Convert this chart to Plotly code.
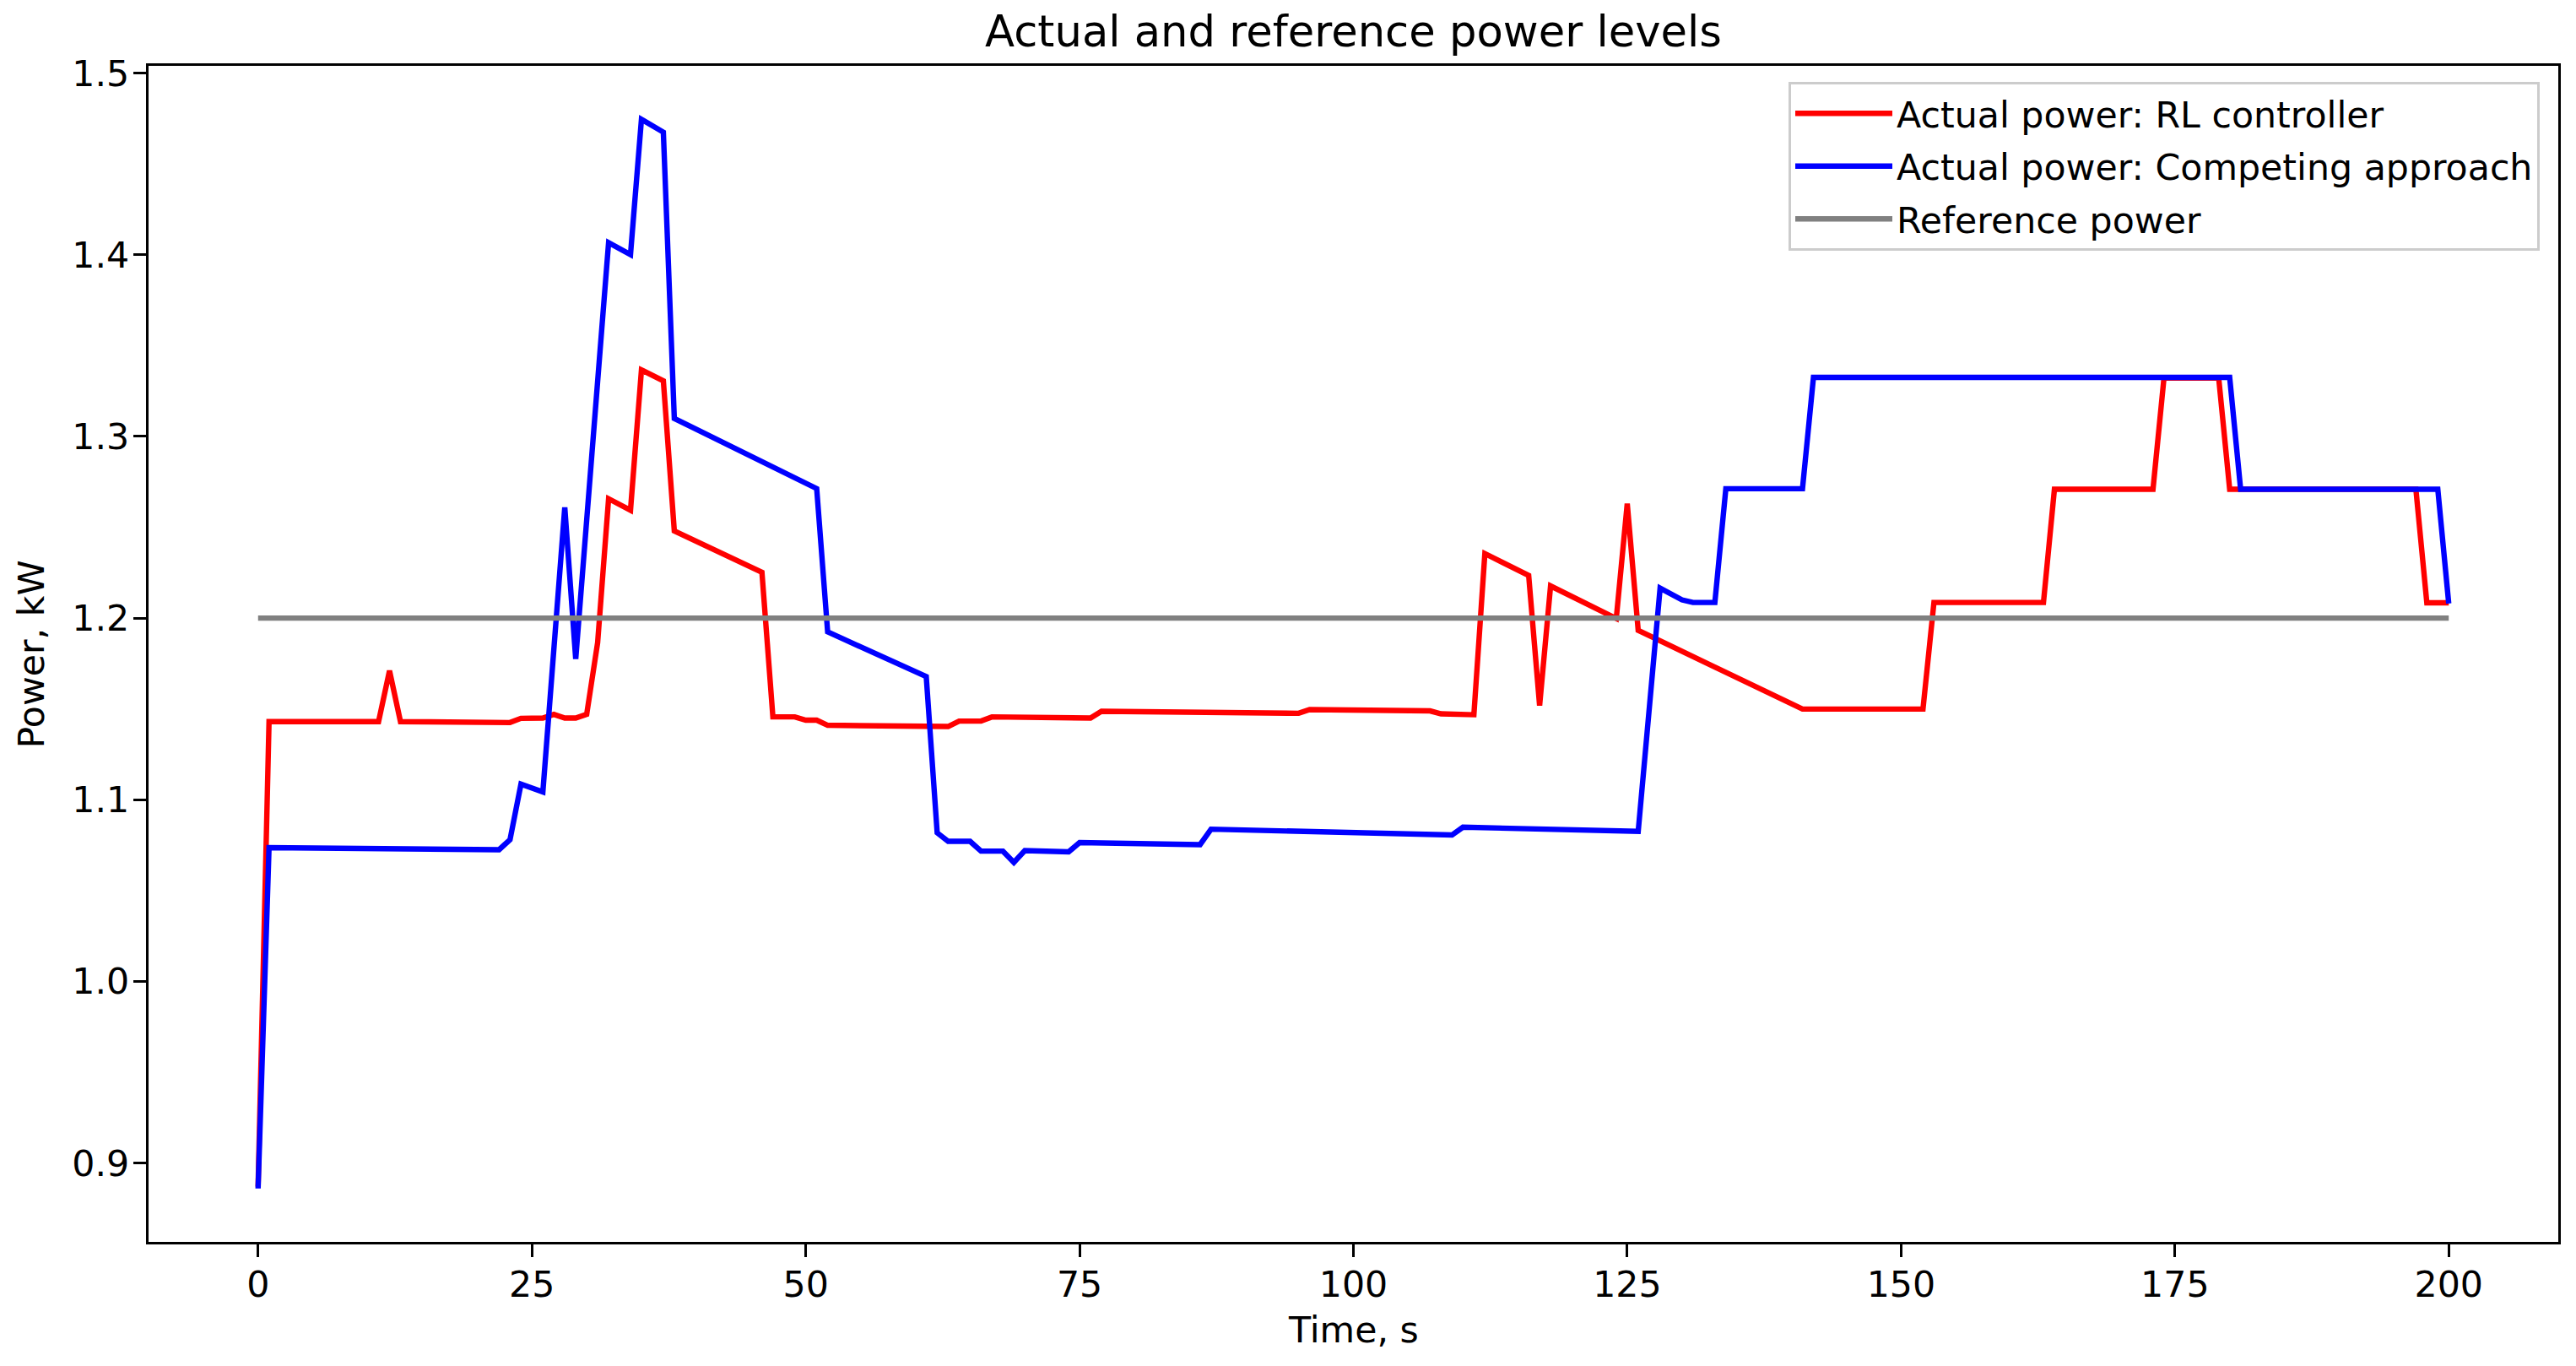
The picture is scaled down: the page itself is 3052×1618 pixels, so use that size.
import plotly.graph_objects as go

# ---- data ----
time_rl = [0, 1, 11, 12, 13, 23, 24, 26, 27, 28, 29, 30, 31, 32, 34, 35, 37, 38, 46, 47,
           49, 50, 51, 52, 63, 64, 66, 67, 76, 77, 95, 96, 107, 108, 111, 112, 116,
           117, 118, 124, 125, 126, 141, 152, 153, 163, 164, 173, 174, 179, 180, 197,
           198, 200]
power_rl = [0.887, 1.143, 1.143, 1.171, 1.143, 1.1425, 1.1448, 1.145, 1.147, 1.145, 1.145,
            1.147, 1.1865, 1.2657, 1.2594, 1.3366, 1.3306, 1.248, 1.2252, 1.1456,
            1.1456, 1.1438, 1.1438, 1.141, 1.1403, 1.1433, 1.1433, 1.1456, 1.145, 1.1487,
            1.1476, 1.1496, 1.1489, 1.1473, 1.1468, 1.2355, 1.2235, 1.1518, 1.2177,
            1.1998, 1.263, 1.1933, 1.1499, 1.1499, 1.2086, 1.2086, 1.2709, 1.2709,
            1.3321, 1.3321, 1.2709, 1.2709, 1.2084, 1.2084]

time_comp = [0, 1, 22, 23, 24, 26, 28, 29, 32, 34, 35, 37, 38, 51, 52, 61, 62, 63, 65, 66,
             68, 69, 70, 74, 75, 86, 87, 109, 110, 126, 128, 130, 131, 133, 134, 141, 142,
             180, 181, 199, 200]
power_comp = [0.886, 1.0736, 1.0725, 1.078, 1.1086, 1.1043, 1.2609, 1.1775, 1.4067, 1.4001,
              1.4746, 1.4675, 1.3099, 1.2713, 1.1924, 1.1678, 1.0818, 1.0771, 1.0771,
              1.0717, 1.0717, 1.0655, 1.072, 1.0713, 1.0764, 1.0753, 1.0838, 1.0806,
              1.0849, 1.0826, 1.2165, 1.21, 1.2086, 1.2086, 1.2712, 1.2712, 1.3325,
              1.3325, 1.2709, 1.2709, 1.208]

time_ref = [0, 200]
power_ref = [1.2, 1.2]

x_ticks = [0, 25, 50, 75, 100, 125, 150, 175, 200]
y_ticks = [0.9, 1.0, 1.1, 1.2, 1.3, 1.4, 1.5]

FONT = "DejaVu Sans"
FS = 42.7      # 10 pt
FS_T = 51.2    # 12 pt
LW = 6.4

# page body has an 8px margin; figure sized so it ends at the window edge
W, H = 3044, 1610

fig = go.Figure()
fig.add_trace(go.Scatter(x=time_rl, y=power_rl, mode="lines",
                         line=dict(color="#ff0000", width=LW), legendgroup="a",
                         name="Actual power: RL controller"))
fig.add_trace(go.Scatter(x=time_comp, y=power_comp, mode="lines",
                         line=dict(color="#0000ff", width=LW), legendgroup="b",
                         name="Actual power: Competing approach"))
fig.add_trace(go.Scatter(x=time_ref, y=power_ref, mode="lines",
                         line=dict(color="#808080", width=LW), legendgroup="c",
                         name="Reference power"))

axis_common = dict(showgrid=False, zeroline=False, showline=True, linecolor="black",
                   linewidth=3.4, mirror=True, ticks="outside", ticklen=15,
                   tickwidth=3.4, tickcolor="black",
                   tickfont=dict(family=FONT, size=FS, color="black"))

fig.update_layout(
    width=W, height=H,
    margin=dict(l=168, r=21, t=70, b=147),
    paper_bgcolor="white", plot_bgcolor="white",
    font=dict(family=FONT, size=FS, color="black"),
    title=dict(text="Actual and reference power levels", x=0.5, xref="paper",
               y=1 - 29 / H, yref="container", yanchor="middle", xanchor="center",
               font=dict(family=FONT, size=FS_T, color="black")),
    xaxis=dict(range=[-10, 210], tickvals=x_ticks, ticklabelstandoff=-4, **axis_common),
    yaxis=dict(range=[0.8566, 1.504], tickvals=y_ticks, tickformat=".1f",
               ticklabelstandoff=-4, **axis_common),
    legend=dict(x=0.9923, xanchor="right", y=0.9864, yanchor="top",
                bgcolor="rgba(255,255,255,0.8)", bordercolor="#cccccc", borderwidth=3,
                itemwidth=115, traceorder="grouped", tracegroupgap=4,
                font=dict(family=FONT, size=FS, color="black")),
    showlegend=True,
    annotations=[
        dict(text="Time, s", x=0.5, y=-0.0747, xref="paper", yref="paper",
             xanchor="center", yanchor="middle", showarrow=False,
             font=dict(family=FONT, size=FS, color="black")),
        dict(text="Power, kW", x=-0.0487, y=0.5, xref="paper", yref="paper",
             xanchor="center", yanchor="middle", showarrow=False, textangle=-90,
             font=dict(family=FONT, size=FS, color="black")),
    ],
)

fig.write_html("out.html")
